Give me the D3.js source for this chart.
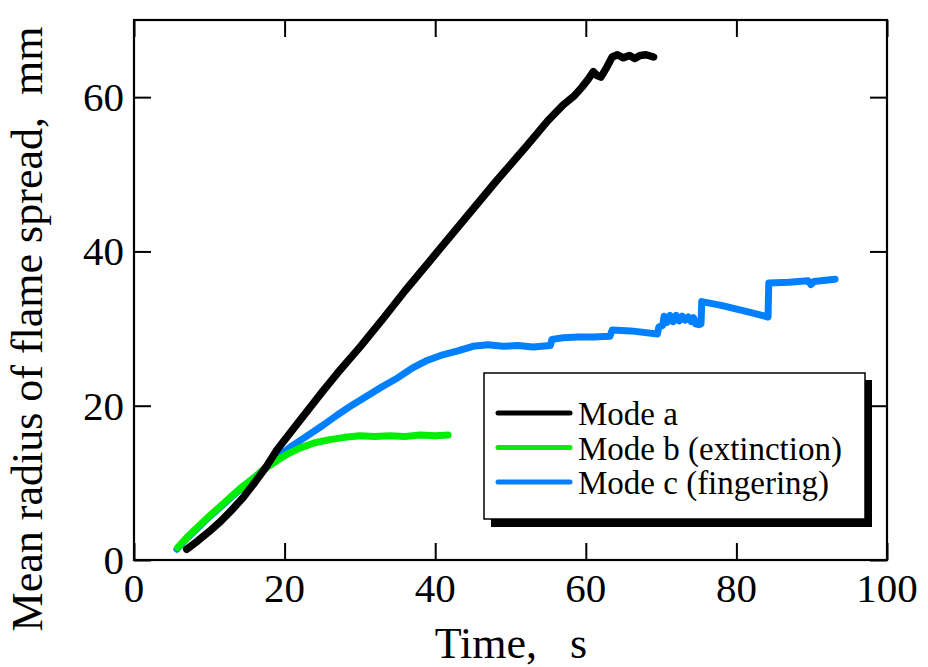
<!DOCTYPE html>
<html>
<head>
<meta charset="utf-8">
<script src="https://cdn.jsdelivr.net/npm/d3@7"></script>
<style>
  body { margin: 0; background: #fff; }
  svg text { font-family: "Liberation Serif", "Times New Roman", serif; fill: #000; }
</style>
</head>
<body>
<div id="chart"></div>
<script>
// series: [time s, radius mm]
var modeA = [[7.0,1.4],[8.5,2.5],[10,3.7],[11.5,5.0],[13,6.5],[14.5,8.1],[16,10.0],[17.5,12.0],
  [19,14.3],[21,16.8],[23,19.3],[25,21.8],[27,24.2],[30,27.6],[33,31.2],[36,34.9],[40,39.6],
  [44,44.3],[48,49.0],[52,53.5],[55,57.0],[57,59.0],[58.5,60.2],[59.5,61.3],[60.3,62.3],[61,63.3],
  [61.5,62.8],[62,62.6],[62.8,63.9],[63.5,65.2],[64.2,65.5],[65,65.1],[65.8,65.4],[66.5,65.0],
  [67.2,65.4],[68,65.5],[69,65.2]];
var modeB = [[5.8,1.6],[7,2.9],[8.5,4.3],[10,5.7],[11.5,7.0],[13,8.3],[14.5,9.6],[16,10.7],
  [17.5,11.9],[19,12.9],[20.5,13.8],[22,14.5],[24,15.2],[26,15.6],[28,15.9],[30,16.1],[32,16.0],
  [34,16.1],[36,16.0],[38,16.2],[40,16.1],[41.7,16.2]];
var modeC = [[5.7,1.4],[7,2.8],[8.5,4.2],[10,5.6],[11.5,6.9],[13,8.2],[14.5,9.5],[16,10.7],
  [17.5,12.0],[19,13.3],[21,14.8],[23,16.1],[25,17.4],[27,18.8],[29,20.1],[31,21.3],[33,22.5],
  [35,23.6],[37,24.9],[39,25.9],[41,26.6],[43,27.1],[45,27.7],[47,27.9],[49,27.7],[51,27.8],
  [53,27.6],[55.3,27.8],[55.5,28.6],[57,28.8],[59,28.9],[61,28.9],[63.2,29.0],[63.5,29.8],
  [66,29.7],[69.5,29.3],[69.7,30.2],[70.2,30.4],[70.4,31.6],[70.8,30.8],[71.2,31.7],[71.6,30.9],
  [72,31.7],[72.4,31.0],[72.8,31.6],[73.2,31.1],[73.6,31.5],[74,30.9],[74.3,31.4],[74.6,30.6],
  [75,30.5],[75.3,30.6],[75.4,33.5],[78,33.0],[81,32.3],
  [84.2,31.5],[84.3,35.9],[87,36.0],[89.5,36.2],[89.9,35.7],[90.3,36.1],[93.1,36.4]];

var xTicks = [0, 20, 40, 60, 80, 100];
var yTicks = [0, 20, 40, 60];
var xMinor = [10, 30, 50, 70, 90];
var yMinor = [10, 30, 50];

var legendNames = ["Mode a", "Mode b (extinction)", "Mode c (fingering)"];
var legendColors = ["#000000", "#00ee00", "#0080ff"];

var width = 928, height = 667;
var plotLeft = 134, plotRight = 887, plotTop = 20, plotBottom = 560;

var svg = d3.select("#chart").append("svg")
    .attr("width", width)
    .attr("height", height);

var x = d3.scaleLinear().domain([0, 100]).range([plotLeft, plotRight]);
var y = d3.scaleLinear().domain([0, 70]).range([plotBottom, plotTop]);

var line = d3.line()
    .x(function (d) { return x(d[0]); })
    .y(function (d) { return y(d[1]); });

// data lines: blue under green under black
[[modeC, legendColors[2], 7], [modeB, legendColors[1], 7], [modeA, legendColors[0], 7.5]].forEach(function (s) {
    svg.append("path")
        .datum(s[0])
        .attr("d", line)
        .attr("fill", "none")
        .attr("stroke", s[1])
        .attr("stroke-width", s[2])
        .attr("stroke-linejoin", "round")
        .attr("stroke-linecap", "round");
});

// inward ticks on all four sides
function ticks(axis, vals, len) {
    return axis.tickValues(vals).tickSize(-len).tickFormat("");
}
var fontTick = 41;

var gB = svg.append("g").attr("transform", "translate(0," + plotBottom + ")");
gB.call(ticks(d3.axisBottom(x), xMinor, 9));
gB.call(ticks(d3.axisBottom(x), xTicks, 17));
var gT = svg.append("g").attr("transform", "translate(0," + plotTop + ")");
gT.call(ticks(d3.axisTop(x), xMinor, 9));
gT.call(ticks(d3.axisTop(x), xTicks, 17));
var gL = svg.append("g").attr("transform", "translate(" + plotLeft + ",0)");
gL.call(ticks(d3.axisLeft(y), yMinor, 9));
gL.call(ticks(d3.axisLeft(y), yTicks, 17));
var gR = svg.append("g").attr("transform", "translate(" + plotRight + ",0)");
gR.call(ticks(d3.axisRight(y), yMinor, 9));
gR.call(ticks(d3.axisRight(y), yTicks, 17));

svg.selectAll(".domain").remove();
svg.selectAll(".tick line").attr("stroke", "#000").attr("stroke-width", 2);

svg.append("rect")
    .attr("x", plotLeft).attr("y", plotTop)
    .attr("width", plotRight - plotLeft).attr("height", plotBottom - plotTop)
    .attr("fill", "none").attr("stroke", "#000").attr("stroke-width", 2.2);

// tick labels
svg.selectAll(".xlab").data(xTicks).enter().append("text")
    .attr("x", function (d) { return x(d); })
    .attr("y", 602)
    .attr("text-anchor", "middle")
    .style("font-size", fontTick + "px")
    .text(function (d) { return d; });

svg.selectAll(".ylab").data(yTicks).enter().append("text")
    .attr("x", plotLeft - 10)
    .attr("y", function (d) { return y(d) + 14; })
    .attr("text-anchor", "end")
    .style("font-size", fontTick + "px")
    .text(function (d) { return d; });

// axis titles
svg.append("text")
    .attr("x", 511).attr("y", 658)
    .attr("text-anchor", "middle")
    .style("font-size", "44px")
    .text("Time,\u00a0\u00a0\u00a0s");

svg.append("text")
    .attr("transform", "translate(42,329) rotate(-90)")
    .attr("text-anchor", "middle")
    .style("font-size", "44px")
    .text("Mean radius of flame spread,\u00a0\u00a0mm");

// legend with drop shadow
var lg = svg.append("g");
lg.append("rect")
    .attr("x", 491).attr("y", 380).attr("width", 381).attr("height", 147)
    .attr("fill", "#000");
lg.append("rect")
    .attr("x", 484).attr("y", 373).attr("width", 381).attr("height", 146)
    .attr("fill", "#fff").attr("stroke", "#000").attr("stroke-width", 1.5);

var item = lg.selectAll(".item").data(legendNames).enter().append("g")
    .attr("transform", function (d, i) { return "translate(0," + (413 + i * 34.5) + ")"; });
item.append("line")
    .attr("x1", 498).attr("x2", 570)
    .attr("stroke", function (d, i) { return legendColors[i]; })
    .attr("stroke-width", 5)
    .attr("stroke-linecap", "round");
item.append("text")
    .attr("x", 578).attr("y", 12)
    .style("font-size", "33px")
    .text(function (d) { return d; });
</script>
</body>
</html>
